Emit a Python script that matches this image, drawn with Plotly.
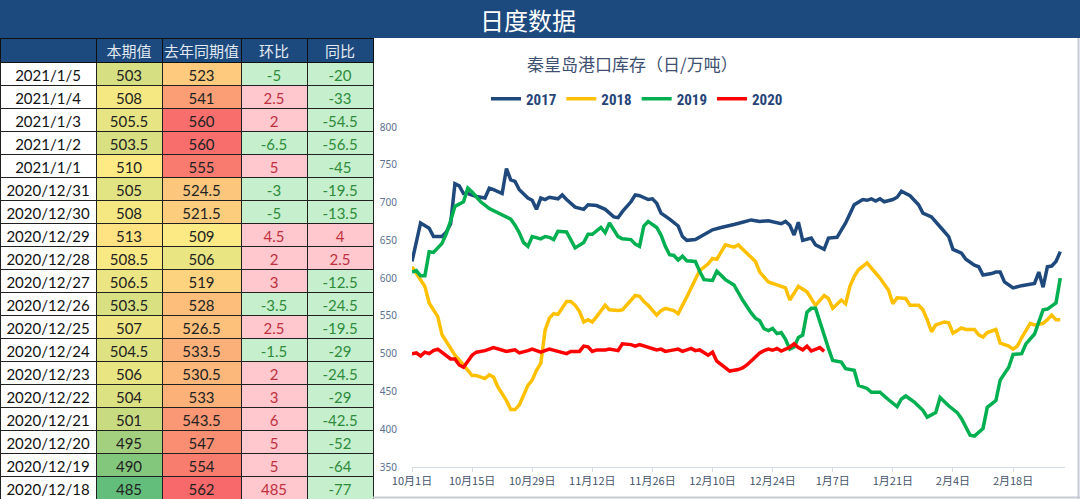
import plotly.graph_objects as go
import pandas as pd
import numpy as np

W, H = 1080, 499

# ---------------- table data ----------------
row_dates = ["2021/1/5", "2021/1/4", "2021/1/3", "2021/1/2", "2021/1/1", "2020/12/31",
             "2020/12/30", "2020/12/29", "2020/12/28", "2020/12/27", "2020/12/26",
             "2020/12/25", "2020/12/24", "2020/12/23", "2020/12/22", "2020/12/21",
             "2020/12/20", "2020/12/19", "2020/12/18"]
cur_val = [503, 508, 505.5, 503.5, 510, 505, 508, 513, 508.5, 506.5, 503.5, 507, 504.5,
           506, 504, 501, 495, 490, 485]
prev_val = [523, 541, 560, 560, 555, 524.5, 521.5, 509, 506, 519, 528, 526.5, 533.5,
            530.5, 533, 543.5, 547, 554, 562]
hb_val = [-5, 2.5, 2, -6.5, 5, -3, -5, 4.5, 2, 3, -3.5, 2.5, -1.5, 2, 3, 6, 5, 5, 485]
tb_val = [-20, -33, -54.5, -56.5, -45, -19.5, -13.5, 4, 2.5, -12.5, -24.5, -19.5, -29,
          -24.5, -29, -42.5, -52, -64, -77]
headers = ["", "本期值", "去年同期值", "环比", "同比"]

# ---------------- line chart data (days since 10月1日) ----------------
day_2017 = [0, 2, 4, 5, 7, 8, 9, 10, 11, 12, 13, 15, 17, 18, 19, 21, 22, 23, 24, 25, 27, 28, 29,
            30, 31, 32, 34, 35, 36, 38, 40, 41, 43, 45, 47, 48, 49, 51, 52, 53, 55, 56, 57, 58,
            60, 62, 63, 64, 66, 68, 70, 72, 73, 75, 77, 79, 81, 83, 86, 87, 88, 89, 90, 91, 93,
            94, 96, 97, 99, 101, 103, 105, 106, 107, 108, 109, 110, 112, 113, 114, 116, 118,
            119, 121, 123, 125, 126, 128, 129, 131, 132, 133, 135, 136, 137, 138, 140, 142,
            145, 146, 147, 148, 149, 150, 151]
val_2017 = [622, 673, 666, 655, 655, 661, 672, 725, 722, 712, 712, 708, 706, 719, 717, 712, 745,
            730, 728, 717, 706, 703, 691, 706, 704, 707, 705, 710, 704, 694, 691, 697, 696, 691,
            681, 680, 688, 701, 710, 709, 704, 705, 699, 686, 678, 669, 655, 650, 651, 658, 664,
            667, 668, 671, 674, 677, 675, 676, 672, 675, 670, 657, 674, 650, 653, 644, 638, 653,
            654, 673, 697, 704, 703, 705, 702, 705, 701, 704, 707, 715, 709, 697, 686, 681, 668,
            655, 638, 633, 625, 617, 615, 604, 606, 608, 608, 595, 587, 590, 593, 608, 588, 615,
            616, 622, 635]

day_2018 = [0, 1, 2, 3, 4, 6, 7, 8, 10, 12, 13, 14, 15, 17, 18, 19, 20, 22, 23, 24, 25, 27, 28,
            29, 30, 31, 32, 33, 34, 36, 37, 38, 39, 40, 41, 42, 43, 45, 46, 48, 49, 50, 52, 53,
            54, 55, 57, 58, 59, 61, 62, 64, 65, 66, 67, 69, 70, 71, 73, 75, 76, 78, 80, 81, 83,
            85, 87, 88, 90, 92, 94, 96, 97, 98, 100, 101, 102, 103, 104, 106, 107, 108, 109,
            111, 112, 113, 115, 116, 118, 119, 120, 121, 122, 124, 125, 126, 128, 129, 131,
            132, 133, 134, 136, 137, 139, 140, 141, 142, 144, 145, 147, 148, 149, 150, 151]
val_2018 = [615, 606, 597, 589, 567, 549, 525, 516, 498, 485, 478, 471, 471, 467, 472, 469, 456,
            438, 426, 426, 432, 458, 465, 478, 487, 531, 547, 553, 552, 569, 569, 564, 556, 542,
            545, 542, 549, 564, 558, 557, 558, 564, 577, 576, 569, 564, 551, 557, 560, 557, 553,
            575, 586, 597, 610, 619, 626, 625, 644, 641, 644, 633, 622, 608, 595, 591, 587, 571,
            589, 582, 564, 577, 573, 560, 571, 566, 589, 602, 611, 620, 613, 606, 600, 584, 566,
            574, 573, 564, 564, 558, 545, 529, 538, 542, 541, 527, 534, 532, 532, 525, 522, 528,
            532, 514, 510, 506, 510, 521, 540, 538, 540, 545, 551, 545, 545]

day_2019 = [0, 1, 2, 3, 4, 5, 7, 8, 9, 10, 12, 13, 14, 16, 18, 20, 21, 22, 23, 24, 25, 26, 27,
            28, 30, 31, 32, 33, 34, 36, 37, 38, 40, 41, 42, 44, 45, 46, 48, 49, 51, 52, 53, 54,
            55, 57, 58, 59, 60, 61, 62, 63, 64, 66, 67, 68, 70, 71, 73, 75, 77, 78, 79, 80, 81,
            82, 83, 84, 85, 86, 87, 88, 89, 90, 91, 92, 93, 94, 95, 96, 97, 98, 100, 101, 103,
            104, 106, 107, 109, 111, 113, 114, 115, 117, 119, 120, 122, 123, 125, 127, 128,
            130, 131, 133, 134, 136, 137, 139, 140, 142, 143, 145, 146, 147, 148, 150, 151]
val_2019 = [608, 610, 603, 603, 635, 634, 646, 659, 676, 695, 701, 719, 714, 701, 692, 686, 683,
            680, 678, 670, 660, 647, 642, 655, 652, 655, 654, 651, 662, 661, 651, 640, 647, 658,
            658, 667, 660, 673, 655, 652, 651, 645, 642, 669, 675, 667, 657, 642, 631, 630, 624,
            629, 623, 622, 609, 598, 597, 609, 598, 591, 571, 562, 554, 547, 543.5, 533, 530.5,
            533.5, 526.5, 528, 519, 506, 509, 521.5, 524.5, 555, 560, 560, 541, 523, 507, 491,
            489, 480, 478, 458, 454, 449, 449, 439, 430, 440, 444, 436, 425, 416, 422, 442, 431,
            422, 414, 392, 391, 401, 429, 438, 465, 482, 499, 500, 513, 526, 542, 558, 559, 567,
            600]

day_2020 = [0, 1, 2, 3, 4, 5, 6, 8, 9, 10, 11, 12, 14, 15, 17, 19, 21, 22, 24, 25, 27, 28, 30,
            32, 34, 36, 37, 39, 40, 41, 42, 43, 45, 46, 48, 49, 51, 52, 53, 55, 57, 58, 59, 61,
            62, 63, 65, 66, 67, 69, 70, 71, 73, 74, 76, 77, 78, 79, 80, 81, 82, 83, 84, 85, 86,
            87, 88, 89, 90, 91, 92, 93, 94, 95, 96]
val_2020 = [500, 501, 497, 502, 500, 504, 506, 498, 493, 493, 485, 482, 498, 502, 504, 508, 505,
            503, 505, 501, 504, 506, 502, 506, 503, 500, 503, 503, 510, 509, 503, 505, 505, 506,
            504, 513, 512, 510, 512, 509, 505, 506, 503, 505, 506, 503, 507, 504, 505, 498, 502,
            490, 481, 477, 479, 481, 485, 490, 495, 501, 504, 506, 504.5, 507, 503.5, 506.5,
            508.5, 513, 508, 505, 510, 503.5, 505.5, 508, 503]

series_names = ["2017", "2018", "2019", "2020"]
series_colors = ["#1F497D", "#FFC000", "#00B050", "#FF0000"]

BASE = pd.Timestamp("2020-10-01")


def to_dates(days):
    return [BASE + pd.Timedelta(days=d) for d in days]


# ---------------- styles ----------------
BAR = "#1C497E"
NUM_FONT = "Lato, 'Noto Sans CJK SC', sans-serif"
CJK_FONT = "'Noto Sans CJK SC', sans-serif"
LEG_FONT = "'Liberation Sans Narrow', 'Roboto Condensed', 'Noto Sans', sans-serif"

GREEN = np.array([99, 190, 123])
YELLOW = np.array([255, 235, 132])
RED = np.array([248, 105, 107])

combined = np.array(cur_val + prev_val, dtype=float)
lo, mid, hi = combined.min(), np.percentile(combined, 50), combined.max()


def scale_color(v):
    if v <= mid:
        t = (v - lo) / (mid - lo)
        c = GREEN + (YELLOW - GREEN) * t
    else:
        t = (v - mid) / (hi - mid)
        c = YELLOW + (RED - YELLOW) * t
    return "rgb(%d,%d,%d)" % tuple(np.round(c).astype(int))


def fmt(v):
    return f"{v:g}"


def sign_fill(v):
    return "#FFC7CE" if v > 0 else "#C6EFCE"


def sign_font(v):
    return "#C0313E" if v > 0 else "#2E8B3A"


n = len(row_dates)
fills = [["white"] * n,
         [scale_color(v) for v in cur_val],
         [scale_color(v) for v in prev_val],
         [sign_fill(v) for v in hb_val],
         [sign_fill(v) for v in tb_val]]
fcolors = [["#111111"] * n, ["#222222"] * n, ["#222222"] * n,
           [sign_font(v) for v in hb_val], [sign_font(v) for v in tb_val]]

fig = go.Figure()

fig.add_trace(go.Table(
    domain=dict(x=[0, 373 / W], y=[0, 1 - 38 / H]),
    columnwidth=[96, 66, 79, 66, 66],
    header=dict(values=headers, fill_color=BAR, line=dict(color="#101010", width=1),
                font=dict(color="#E3E9F2", size=15, family=CJK_FONT), height=24,
                align="center"),
    cells=dict(values=[row_dates, [fmt(v) for v in cur_val], [fmt(v) for v in prev_val],
                       [fmt(v) for v in hb_val], [fmt(v) for v in tb_val]],
               fill=dict(color=fills), line=dict(color="#202020", width=1),
               font=dict(color=fcolors, size=15, family=NUM_FONT), height=23,
               align="center"),
))

days_all = [day_2017, day_2018, day_2019, day_2020]
vals_all = [val_2017, val_2018, val_2019, val_2020]
for name, color, d, v in zip(series_names, series_colors, days_all, vals_all):
    fig.add_trace(go.Scatter(x=to_dates(d), y=v, mode="lines", name=name,
                             line=dict(color=color, width=3.5)))

x_end = BASE + pd.Timedelta(days=152.1)
fig.update_layout(
    width=W, height=H, autosize=False,
    margin=dict(l=0, r=0, t=0, b=0, pad=0, autoexpand=False),
    paper_bgcolor="white", plot_bgcolor="white",
    showlegend=True,
    legend=dict(orientation="h", x=637 / W, xanchor="center", y=1 - 99 / H, yanchor="middle",
                font=dict(size=15, color="#264478", family=LEG_FONT, weight="bold"),
                itemwidth=30, tracegroupgap=0, bgcolor="rgba(0,0,0,0)"),
    xaxis=dict(domain=[412 / W, 1065 / W], range=[BASE, x_end], type="date",
               tick0=BASE, dtick=14 * 86400000, tickformat="%-m月%-d日", automargin=False,
               showgrid=False, zeroline=False, showline=True, linecolor="#D6DCE5",
               linewidth=1, ticks="outside", ticklen=4, tickcolor="#D6DCE5",
               tickfont=dict(size=11, color="#44546A", family=CJK_FONT)),
    yaxis=dict(domain=[1 - 467 / H, 1 - 127 / H], range=[350, 800], dtick=50,
               showgrid=False, zeroline=False, showline=False, ticks="", automargin=False,
               ticklabelstandoff=14,
               tickfont=dict(size=10, color="#5B6F8E", family="'Noto Sans', sans-serif")),
    shapes=[dict(type="rect", xref="paper", yref="paper", x0=0, x1=1, y0=1 - 38 / H, y1=1,
                 fillcolor=BAR, line=dict(width=0), layer="below"),
            dict(type="line", xref="paper", yref="paper", x0=1 - 1.5 / W, x1=1 - 1.5 / W,
                 y0=0, y1=1 - 38 / H, line=dict(color="#C5CBD3", width=2)),
            dict(type="line", xref="paper", yref="paper", x0=373 / W, x1=1,
                 y0=1.5 / H, y1=1.5 / H, line=dict(color="#C5CBD3", width=2))],
    annotations=[
        dict(text="日度数据", x=528 / W, y=1 - 19 / H, xref="paper", yref="paper",
             showarrow=False, xanchor="center", yanchor="middle",
             font=dict(size=24, color="white", family=CJK_FONT)),
        dict(text="秦皇岛港口库存（日/万吨）", x=632 / W, y=1 - 63 / H, xref="paper",
             yref="paper", showarrow=False, xanchor="center", yanchor="middle",
             font=dict(size=17, color="#3F5070", family=CJK_FONT)),
    ],
)

fig.write_html("out.html", config={"displayModeBar": False},
               post_script="document.body.style.margin='0';"
                           "document.body.style.overflow='hidden';")
